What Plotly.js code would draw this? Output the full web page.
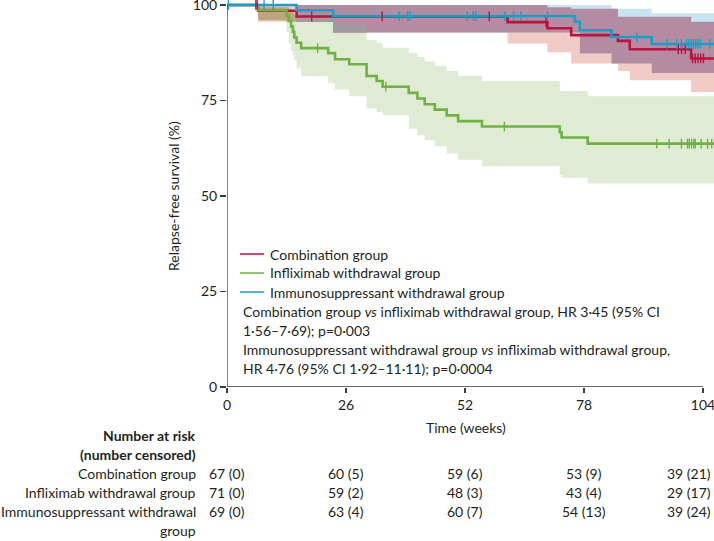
<!DOCTYPE html>
<html>
<head>
<meta charset="utf-8">
<script src="https://cdn.plot.ly/plotly-3.0.1.min.js"></script>
<style>body{margin:0;background:#fff}</style>
</head>
<body>
<div id="graph" style="width:714px;height:541px"></div>
<script>
'use strict';

var endWeek = 106.4;
var riskWeeks = [0, 26, 52, 78, 104];

// combination group
var combTime = [0, 6.8, 15.2, 61.3, 70.0, 75.2, 85.4, 88.0, 101.4];
var combSurv = [100, 98.5, 97.0, 95.5, 93.9, 92.1, 90.6, 88.4, 86.0];
var combCens = [6.3, 6.6, 18.5, 33.9, 57.3, 69.7, 98.6, 99.3, 100.1, 101.7, 102.3, 102.9, 103.5, 104.1];
var combBandTime = [0, 6.8, 23.2, 61.3, 70.0, 75.2, 85.4, 88.0, 101.4];
var combLo = [100, 95.6, 92.8, 89.9, 87.6, 84.7, 82.7, 80.3, 77.2];
var combUp = [100, 100, 100, 100, 99.4, 99.0, 96.9, 96.9, 95.6];

// infliximab withdrawal group
var inflTime = [0, 6.8, 13.0, 13.5, 14.0, 14.4, 14.7, 15.2, 16.2, 22.1, 23.6, 26.7, 30.5, 32.7, 34.0,
                39.7, 41.6, 43.2, 45.4, 48.0, 50.5, 55.7, 72.7, 73.1, 78.8];
var inflSurv = [100, 98.6, 97.2, 95.8, 94.4, 93.0, 91.5, 90.1, 88.7, 87.4, 85.8, 84.5, 81.4, 80.1, 78.6,
                77.0, 75.5, 74.0, 72.6, 71.1, 69.6, 68.2, 66.7, 65.3, 63.7];
var inflLo = [100, 96.0, 93.0, 90.0, 88.0, 86.9, 85.6, 83.4, 81.4, 79.6, 77.9, 76.1, 72.9, 72.0, 71.1,
              67.6, 65.9, 64.6, 63.0, 61.1, 59.5, 57.8, 55.5, 54.8, 53.3];
var inflUp = [100, 99.4, 99.4, 99.0, 98.5, 98.0, 97.4, 97.4, 97.4, 97.4, 94.8, 94.8, 90.8, 90.1, 88.8,
              87.5, 86.4, 85.3, 84.0, 82.7, 81.4, 80.1, 77.5, 77.5, 76.1];
var inflCens = [19.8, 34.7, 60.6, 93.9, 96.6, 99.3, 100.6, 101.0, 101.5, 102.0, 102.3, 103.6, 105.0, 105.9];

// immunosuppressant withdrawal group
var immTime = [0, 15.2, 23.2, 76.0, 77.1, 84.0, 92.8];
var immSurv = [100, 98.6, 97.1, 95.6, 93.4, 91.6, 89.8];
var immCens = [0.3, 8.1, 10.1, 37.6, 39.5, 40.0, 52.5, 53.8, 54.4, 60.7, 62.6, 64.2, 70.0, 89.6, 96.1,
               98.3, 99.3, 100.4, 100.9, 101.4, 101.9, 102.4, 102.9, 103.4, 105.5];
var immBandTime = [0, 15.2, 23.2, 77.1, 84.0, 92.8];
var immLo = [100, 95.6, 92.8, 87.3, 84.7, 82.2];
var immUp = [100, 100, 100, 100, 99.0, 97.8];

// number at risk (number censored)
var combRisk = ['67 (0)', '60 (5)', '59 (6)', '53 (9)', '39 (21)'];
var inflRisk = ['71 (0)', '59 (2)', '48 (3)', '43 (4)', '29 (17)'];
var immRisk = ['69 (0)', '63 (4)', '60 (7)', '54 (13)', '39 (24)'];

var groupNames = ['Combination group', 'Infliximab withdrawal group', 'Immunosuppressant withdrawal group'];

var red = '#c0103e', green = '#6db33f', blue = '#15a0c9';
var font = 'Lato, "Open Sans", sans-serif';

function stepAt(times, vals, t) {
  var v = vals[0];
  for (var i = 0; i < times.length; i++) { if (times[i] <= t) v = vals[i]; }
  return v;
}

function last(a) { return a[a.length - 1]; }

function band(b, color) {
  var x = b.t.concat([endWeek]);
  return [
    {x: x, y: b.lo.concat([last(b.lo)]), mode: 'lines', line: {width: 0, shape: 'hv'},
     hoverinfo: 'skip', showlegend: false},
    {x: x, y: b.up.concat([last(b.up)]), mode: 'lines', line: {width: 0, shape: 'hv'},
     fill: 'tonexty', fillcolor: color, hoverinfo: 'skip', showlegend: false}
  ];
}

// where confidence bands overlap
function overlap(bands) {
  var ts = [];
  bands.forEach(function (b) { b.t.forEach(function (t) { if (ts.indexOf(t) < 0) ts.push(t); }); });
  ts.sort(function (a, b) { return a - b; });
  var lo = [], up = [];
  ts.forEach(function (t) {
    var l = Math.max.apply(null, bands.map(function (b) { return stepAt(b.t, b.lo, t); }));
    var u = Math.min.apply(null, bands.map(function (b) { return stepAt(b.t, b.up, t); }));
    lo.push(l); up.push(Math.max(l, u));
  });
  return {t: ts, lo: lo, up: up};
}

function curve(times, surv, color) {
  return {x: times.concat([endWeek]), y: surv.concat([last(surv)]), mode: 'lines',
          line: {color: color, width: 2.6, shape: 'hv'}, hoverinfo: 'skip', showlegend: false};
}

function censored(cens, times, surv, color) {
  return {x: cens, y: cens.map(function (t) { return stepAt(times, surv, t); }), mode: 'markers',
          marker: {symbol: 'line-ns', size: 7, line: {width: 1.4, color: color}},
          hoverinfo: 'skip', showlegend: false, cliponaxis: false};
}

var bComb = {t: combBandTime, lo: combLo, up: combUp};
var bInfl = {t: inflTime, lo: inflLo, up: inflUp};
var bImm = {t: immBandTime, lo: immLo, up: immUp};

var data = [].concat(
  band(bInfl, '#dfecd3'),
  band(bComb, '#f0cbc3'),
  band(bImm, '#c5e5f1'),
  band(overlap([bComb, bInfl]), '#bca77c'),
  band(overlap([bComb, bImm]), '#b48ca2'),
  band(overlap([bComb, bImm, bInfl]), '#a19a9e'),
  [curve(combTime, combSurv, red), curve(inflTime, inflSurv, green), curve(immTime, immSurv, blue),
   censored(combCens, combTime, combSurv, red),
   censored(inflCens, inflTime, inflSurv, green),
   censored(immCens, immTime, immSurv, blue)]
);

// pixel helpers for text placement
function px(x) { return (x - 227) / 487; }
function py(y) { return (387 - y) / 387; }

var txt = {family: font, size: 14, color: '#231f20'};
var ann = [];
var shapes = [];
function note(text, x, y, anchor, extra) {
  var a = {text: text, xref: 'paper', yref: 'paper', x: px(x), y: py(y), xanchor: anchor,
           yanchor: 'middle', showarrow: false, font: txt};
  for (var k in extra) a[k] = extra[k];
  ann.push(a);
}

// legend
[red, green, blue].forEach(function (c, i) {
  var y = 254 + i * 19;
  shapes.push({type: 'line', xref: 'paper', yref: 'paper', x0: px(240), x1: px(264), y0: py(y), y1: py(y),
               line: {color: c, width: 1.5}});
  note(groupNames[i], 268, y, 'left');
});

note('Combination group <i>vs</i> infliximab withdrawal group, HR 3·45 (95% CI', 241, 311, 'left');
note('1·56–7·69); p=0·003', 241, 330, 'left');
note('Immunosuppressant withdrawal group <i>vs</i> infliximab withdrawal group,', 241, 349, 'left');
note('HR 4·76 (95% CI 1·92–11·11); p=0·0004', 241, 368, 'left');
note('Relapse-free survival (%)', 173, 196, 'center', {textangle: -90});
note('Time (weeks)', 466, 427, 'center');
note('<b>Number at risk</b>', 198, 435, 'right');
note('<b>(number censored)</b>', 198, 454, 'right');

var rows = [['Combination group', combRisk, 473], ['Infliximab withdrawal group', inflRisk, 492],
            ['Immunosuppressant withdrawal', immRisk, 511]];
rows.forEach(function (r) {
  note(r[0], 198, r[2], 'right');
  r[1].forEach(function (v, i) {
    if (i === r[1].length - 1) {
      note(v, 713, r[2], 'right');
    } else {
      ann.push({text: v, xref: 'x', yref: 'paper', x: riskWeeks[i], y: py(r[2]), xanchor: 'center',
                yanchor: 'middle', showarrow: false, font: txt});
    }
  });
});
note('group', 198, 530, 'right');

var axisLine = {color: '#3c3c3c', width: 1.3};
shapes.push({type: 'line', xref: 'x', yref: 'y', x0: 0, x1: 104, y0: 0, y1: 0, line: axisLine});
shapes.push({type: 'line', xref: 'x', yref: 'y', x0: 0, x1: 0, y0: 0, y1: 100, line: axisLine});

var layout = {
  width: 714, height: 541,
  margin: {l: 227, r: 0, t: 0, b: 154},
  paper_bgcolor: '#fff', plot_bgcolor: '#fff',
  font: txt,
  showlegend: false,
  xaxis: {range: [0, endWeek], tickvals: riskWeeks, ticks: 'outside', ticklen: 5, tickwidth: 1.3,
          tickcolor: '#3c3c3c', showline: false, showgrid: false, zeroline: false,
          tickfont: txt, ticklabeloverflow: 'allow', fixedrange: true},
  yaxis: {range: [0, 101.3], tickvals: [0, 25, 50, 75, 100], ticks: 'outside', ticklen: 6,
          tickwidth: 1.3, tickcolor: '#3c3c3c', showline: false, showgrid: false, zeroline: false,
          tickfont: txt, ticklabeloverflow: 'allow', fixedrange: true},
  shapes: shapes,
  annotations: ann
};

Plotly.newPlot('graph', data, layout, {displayModeBar: false, staticPlot: true});
</script>
</body>
</html>
